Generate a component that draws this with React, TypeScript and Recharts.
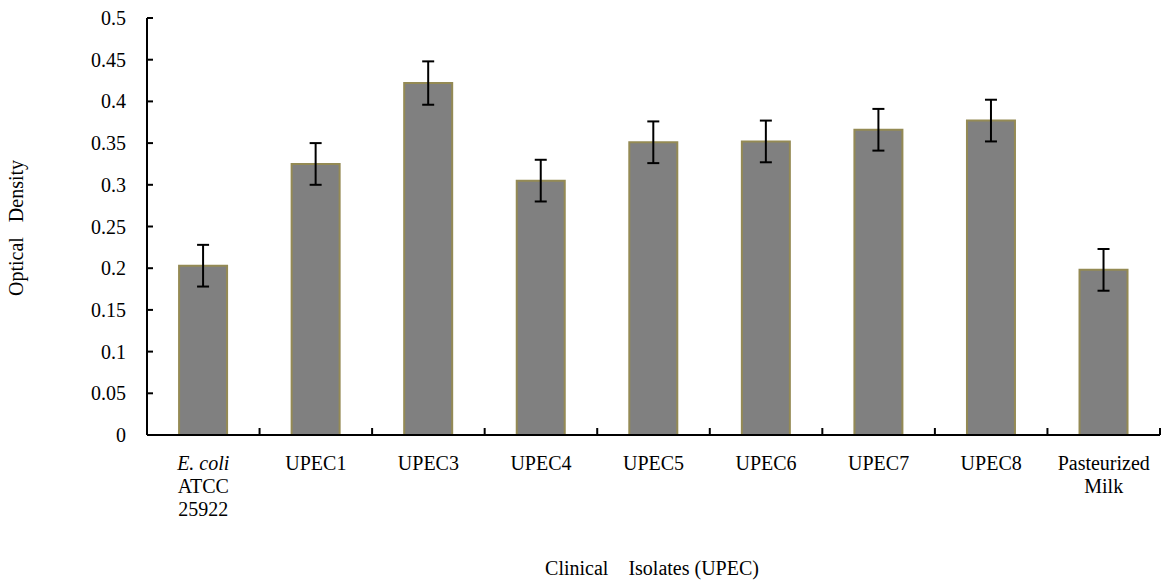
import React from 'react'
import { BarChart, Bar, XAxis, YAxis, ErrorBar, Label } from 'recharts'

const categories = ['E. coli ATCC 25922', 'UPEC1', 'UPEC3', 'UPEC4', 'UPEC5', 'UPEC6', 'UPEC7', 'UPEC8', 'Pasteurized Milk']
const tickLines: string[][] = [
  ['E. coli', 'ATCC', '25922'],
  ['UPEC1'],
  ['UPEC3'],
  ['UPEC4'],
  ['UPEC5'],
  ['UPEC6'],
  ['UPEC7'],
  ['UPEC8'],
  ['Pasteurized', 'Milk'],
]
const density = [0.203, 0.325, 0.422, 0.305, 0.351, 0.352, 0.366, 0.377, 0.198]
const errors = [0.025, 0.025, 0.026, 0.025, 0.025, 0.025, 0.025, 0.025, 0.025]
const yTicks = [0, 0.05, 0.1, 0.15, 0.2, 0.25, 0.3, 0.35, 0.4, 0.45, 0.5]

const data = categories.map((name, i) => ({ name, od: density[i], err: errors[i] }))

const FONT = '"Liberation Serif", "Times New Roman", serif'

function YTick({ x, y, payload }: any) {
  const v = Number(payload.value)
  return (
    <g>
      <line x1={x} y1={y} x2={x + 6} y2={y} stroke="#000" strokeWidth={2} />
      <text x={x - 21} y={y} dy="0.35em" textAnchor="end" fontFamily={FONT} fontSize={20} fill="#000">
        {String(Number(v.toFixed(2)))}
      </text>
    </g>
  )
}

function XTick({ x, y, payload, index }: any) {
  const half = payload.offset || 56
  const lines = tickLines[index] || [String(payload.value)]
  return (
    <g>
      {index === 0 && <line x1={x - half} y1={y} x2={x - half} y2={y - 7} stroke="#000" strokeWidth={2} />}
      <line x1={x + half} y1={y} x2={x + half} y2={y - 7} stroke="#000" strokeWidth={2} />
      {lines.map((t, i) => (
        <text
          key={i}
          x={x}
          y={y + 28 + i * 23}
          dy="0.35em"
          textAnchor="middle"
          fontFamily={FONT}
          fontSize={20}
          fontStyle={index === 0 && i === 0 ? 'italic' : 'normal'}
          fill="#000"
        >
          {t}
        </text>
      ))}
    </g>
  )
}

export default function App() {
  return (
    <div style={{ position: 'absolute', left: 0, top: 0, width: 1163, height: 581, background: '#fff' }}>
      <BarChart
        width={1163}
        height={581}
        data={data}
        margin={{ top: 18, right: 3, left: 47, bottom: 16 }}
        barCategoryGap="28.5%"
      >
        <XAxis
          dataKey="name"
          height={130}
          axisLine={{ stroke: '#000', strokeWidth: 2 }}
          tickLine={false}
          tickSize={0}
          tickMargin={0}
          tick={<XTick />}
          interval={0}
        >
          <Label
            content={() => (
              <text x={652} y={568} dy="0.35em" textAnchor="middle" fontFamily={FONT} fontSize={20} fill="#000" style={{ whiteSpace: 'pre' }}>
                {'Clinical    Isolates (UPEC)'}
              </text>
            )}
          />
        </XAxis>
        <YAxis
          width={100}
          domain={[0, 0.5]}
          ticks={yTicks}
          interval={0}
          axisLine={{ stroke: '#000', strokeWidth: 2 }}
          tickLine={false}
          tickSize={0}
          tickMargin={0}
          tick={<YTick />}
        >
          <Label
            content={() => (
              <text
                x={16}
                y={228}
                dy="0.35em"
                textAnchor="middle"
                transform="rotate(-90 16 228)"
                fontFamily={FONT}
                fontSize={20}
                fill="#000"
                style={{ whiteSpace: 'pre' }}
              >
                {'Optical   Density'}
              </text>
            )}
          />
        </YAxis>
        <Bar dataKey="od" fill="#808080" stroke="#948A54" strokeWidth={2} isAnimationActive={false}>
          <ErrorBar dataKey="err" width={6} stroke="#000" strokeWidth={2} direction="y" />
        </Bar>
      </BarChart>
    </div>
  )
}
